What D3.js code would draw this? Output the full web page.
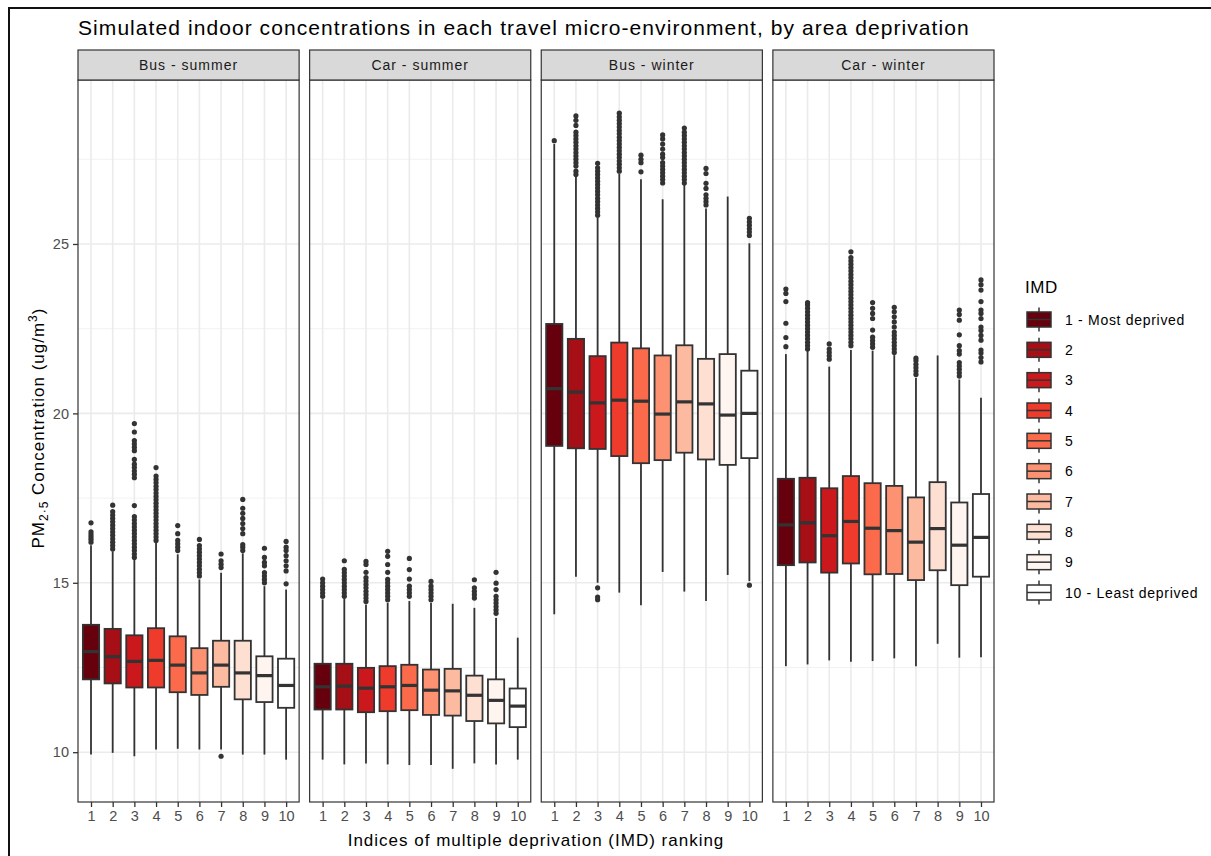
<!DOCTYPE html>
<html>
<head>
<meta charset="utf-8">
<script src="https://cdn.jsdelivr.net/npm/d3@7"></script>
<style>
  html, body { margin: 0; padding: 0; background: #fff; }
  svg { display: block; font-family: "Liberation Sans", Arial, sans-serif; }
</style>
</head>
<body>
<svg id="chart" width="1211" height="856"></svg>
<script>
// IMD categories and legend labels
const categories = ['1', '2', '3', '4', '5', '6', '7', '8', '9', '10'];
const imdLabels = ['1 - Most deprived', '2', '3', '4', '5', '6', '7', '8', '9', '10 - Least deprived'];
const facetNames = ['Bus - summer', 'Car - summer', 'Bus - winter', 'Car - winter'];
const fillColours = ['#67000D', '#A50F15', '#CB181D', '#EF3B2C', '#FB6A4A',
                     '#FC9272', '#FCBBA1', '#FEE0D2', '#FFF5F0', '#FFFFFF'];
const yTicks = [10, 15, 20, 25];
const yMinorTicks = [12.5, 17.5, 22.5, 27.5];

// Box statistics per IMD decile: [lower whisker, Q1, median, Q3, upper whisker]
const busSummerStats = [
  [9.93, 12.15, 12.97, 13.76, 16.11], [9.98, 12.03, 12.82, 13.64, 15.93],
  [9.88, 11.91, 12.68, 13.45, 15.69], [10.08, 11.91, 12.71, 13.66, 16.18],
  [10.10, 11.77, 12.57, 13.42, 15.84], [10.08, 11.69, 12.34, 13.07, 15.10],
  [10.08, 11.93, 12.57, 13.29, 15.30], [9.93, 11.56, 12.34, 13.29, 15.87],
  [9.93, 11.48, 12.26, 12.83, 14.90], [9.78, 11.31, 11.97, 12.76, 14.80]
];
const carSummerStats = [
  [9.78, 11.26, 11.93, 12.61, 14.51], [9.64, 11.26, 11.95, 12.61, 14.53],
  [9.67, 11.18, 11.89, 12.49, 14.36], [9.64, 11.21, 11.93, 12.54, 14.41],
  [9.62, 11.24, 11.97, 12.58, 14.46], [9.62, 11.10, 11.83, 12.44, 14.41],
  [9.51, 11.08, 11.81, 12.46, 14.38], [9.67, 10.92, 11.68, 12.26, 14.26],
  [9.64, 10.85, 11.53, 12.15, 13.96], [9.78, 10.74, 11.36, 11.88, 13.38]
];
const busWinterStats = [
  [14.07, 19.04, 20.73, 22.64, 27.95], [15.18, 18.97, 20.63, 22.20, 26.99],
  [15.00, 18.95, 20.31, 21.69, 25.79], [14.71, 18.74, 20.39, 22.09, 27.07],
  [14.34, 18.53, 20.36, 21.92, 26.91], [15.32, 18.62, 19.98, 21.71, 26.32],
  [14.74, 18.84, 20.34, 22.01, 26.74], [14.46, 18.64, 20.28, 21.61, 26.05],
  [15.23, 18.48, 19.95, 21.75, 26.40], [15.05, 18.68, 20.00, 21.26, 25.02]
];
const carWinterStats = [
  [12.54, 15.52, 16.71, 18.07, 21.75], [12.59, 15.60, 16.77, 18.10, 21.85],
  [12.71, 15.30, 16.39, 17.79, 21.38], [12.67, 15.57, 16.81, 18.15, 21.87],
  [12.69, 15.25, 16.61, 17.94, 21.85], [12.77, 15.26, 16.54, 17.86, 21.72],
  [12.54, 15.08, 16.20, 17.52, 21.05], [13.20, 15.37, 16.60, 17.97, 21.71],
  [12.79, 14.93, 16.11, 17.37, 21.00], [12.80, 15.18, 16.34, 17.62, 20.46]
];

// Outlying simulated values per IMD decile
const busSummerOutliers = [
  [16.2, 16.28, 16.35, 16.42, 16.5, 16.77],
  [16.0, 16.1, 16.2, 16.3, 16.4, 16.5, 16.6, 16.7, 16.8, 16.9, 17.0, 17.1, 17.29],
  [15.75, 15.85, 15.95, 16.05, 16.15, 16.25, 16.35, 16.45, 16.55, 16.65, 16.75, 16.85, 16.95,
   17.28, 18.1, 18.2, 18.3, 18.4, 18.5, 18.64, 18.9, 19.0, 19.1, 19.2, 19.45, 19.7],
  [16.25, 16.35, 16.45, 16.55, 16.65, 16.75, 16.85, 16.95, 17.05, 17.15, 17.25, 17.35,
   17.45, 17.55, 17.65, 17.75, 17.85, 17.95, 18.05, 18.15, 18.4],
  [15.95, 16.05, 16.15, 16.25, 16.45, 16.69],
  [15.2, 15.3, 15.4, 15.5, 15.6, 15.7, 15.8, 15.9, 16.0, 16.1, 16.28],
  [9.88, 15.45, 15.55, 15.65, 15.85],
  [15.95, 16.05, 16.13, 16.45, 16.6, 16.75, 16.9, 17.05, 17.2, 17.46],
  [15.0, 15.1, 15.2, 15.3, 15.5, 15.6, 15.75, 16.02],
  [14.97, 15.35, 15.5, 15.65, 15.8, 15.95, 16.05, 16.22]
];
const carSummerOutliers = [
  [14.6, 14.7, 14.8, 14.9, 15.0, 15.11],
  [14.6, 14.7, 14.8, 14.9, 15.0, 15.1, 15.2, 15.3, 15.4, 15.65],
  [14.45, 14.55, 14.65, 14.75, 14.85, 14.95, 15.05, 15.15, 15.31, 15.54, 15.63],
  [14.5, 14.6, 14.7, 14.8, 14.9, 15.0, 15.1, 15.31, 15.54, 15.78, 15.93],
  [14.6, 14.7, 14.8, 14.9, 15.11, 15.39, 15.72],
  [14.5, 14.6, 14.7, 14.8, 14.9, 15.04],
  [],
  [14.55, 14.65, 14.75, 14.85, 15.09],
  [14.1, 14.2, 14.3, 14.4, 14.5, 14.6, 14.8, 14.99, 15.31],
  []
];
const busWinterOutliers = [
  [28.05],
  [27.05, 27.15, 27.3, 27.4, 27.5, 27.6, 27.7, 27.8, 27.9, 28.0, 28.1, 28.2, 28.3, 28.5, 28.65, 28.78],
  [14.5, 14.58, 14.85, 25.85, 25.95, 26.05, 26.15, 26.25, 26.35, 26.45, 26.55, 26.65, 26.75,
   26.85, 26.95, 27.05, 27.15, 27.25, 27.38],
  [27.15, 27.25, 27.35, 27.45, 27.55, 27.65, 27.75, 27.85, 27.95, 28.05, 28.15, 28.25, 28.35,
   28.45, 28.55, 28.65, 28.75, 28.86],
  [27.13, 27.4, 27.5, 27.62],
  [26.8, 26.9, 27.0, 27.1, 27.2, 27.3, 27.4, 27.55, 27.65, 27.8, 27.95, 28.1, 28.22],
  [26.8, 26.9, 27.0, 27.1, 27.2, 27.3, 27.4, 27.5, 27.6, 27.7, 27.8, 27.9, 28.0, 28.1, 28.2, 28.3, 28.42],
  [26.15, 26.25, 26.35, 26.45, 26.64, 26.79, 27.08, 27.23],
  [],
  [14.93, 25.25, 25.35, 25.45, 25.55, 25.65, 25.76]
];
const carWinterOutliers = [
  [21.97, 22.24, 22.66, 23.3, 23.54, 23.67],
  [21.9, 22.0, 22.1, 22.2, 22.3, 22.4, 22.5, 22.6, 22.7, 22.8, 22.9, 23.0, 23.1, 23.2, 23.27],
  [21.6, 21.7, 21.8, 21.9, 22.05],
  [22.0, 22.1, 22.2, 22.3, 22.4, 22.5, 22.6, 22.7, 22.8, 22.9, 23.0, 23.1, 23.2, 23.3, 23.4,
   23.5, 23.6, 23.7, 23.8, 23.9, 24.0, 24.1, 24.2, 24.3, 24.4, 24.5, 24.6, 24.77],
  [21.95, 22.05, 22.15, 22.25, 22.46, 22.8, 22.95, 23.1, 23.27],
  [21.8, 21.9, 22.0, 22.1, 22.2, 22.3, 22.4, 22.55, 22.7, 22.85, 23.0, 23.13],
  [21.15, 21.25, 21.35, 21.45, 21.55, 21.63],
  [],
  [21.1, 21.2, 21.3, 21.4, 21.5, 21.75, 21.85, 22.0, 22.32, 22.75, 22.92, 23.05],
  [21.52, 21.65, 21.78, 21.87, 22.16, 22.3, 22.45, 22.55, 22.8, 22.95, 23.05, 23.3, 23.64, 23.8, 23.94]
];

const facetStats = [busSummerStats, carSummerStats, busWinterStats, carWinterStats];
const facetOutliers = [busSummerOutliers, carSummerOutliers, busWinterOutliers, carWinterOutliers];

// ---- layout ----
const svg = d3.select('#chart');
const ink = '#333333';
const plotLeft = 78, plotRight = 994, panelGap = 10.5;
const stripTop = 50, stripBottom = 80, panelBottom = 802;
const panelWidth = (plotRight - plotLeft - panelGap * (facetNames.length - 1)) / facetNames.length;

const y = d3.scaleLinear().domain([8.53, 29.84]).range([panelBottom, stripBottom]);
const colour = d3.scaleOrdinal().domain(categories).range(fillColours);

// outer frame
svg.append('rect').attr('x', 9).attr('y', 8).attr('width', 1240).attr('height', 900)
  .attr('fill', 'none').attr('stroke', '#111').attr('stroke-width', 2);

// title
svg.append('text').attr('x', plotLeft).attr('y', 35)
  .attr('font-size', 21).attr('letter-spacing', 1.07).attr('fill', '#000')
  .text('Simulated indoor concentrations in each travel micro-environment, by area deprivation');

facetNames.forEach((name, fi) => {
  const left = plotLeft + fi * (panelWidth + panelGap);
  const right = left + panelWidth;
  const x = d3.scalePoint().domain(categories).range([left, right]).padding(0.6);
  const boxW = x.step() * 0.75;
  const g = svg.append('g');

  // grid
  g.selectAll('.minor').data(yMinorTicks).join('line')
    .attr('x1', left).attr('x2', right).attr('y1', d => y(d)).attr('y2', d => y(d))
    .attr('stroke', '#F2F2F2').attr('stroke-width', 1);
  g.selectAll('.major').data(yTicks).join('line')
    .attr('x1', left).attr('x2', right).attr('y1', d => y(d)).attr('y2', d => y(d))
    .attr('stroke', '#EBEBEB').attr('stroke-width', 1.6);
  g.selectAll('.vgrid').data(categories).join('line')
    .attr('x1', d => x(d)).attr('x2', d => x(d)).attr('y1', stripBottom).attr('y2', panelBottom)
    .attr('stroke', '#EBEBEB').attr('stroke-width', 1.6);

  const stats = facetStats[fi];
  const outs = facetOutliers[fi];

  categories.forEach((c, i) => {
    const [lo, q1, med, q3, hi] = stats[i];
    const cx = x(c);
    const bg = g.append('g');
    // whiskers
    bg.append('line').attr('x1', cx).attr('x2', cx).attr('y1', y(hi)).attr('y2', y(q3))
      .attr('stroke', ink).attr('stroke-width', 1.8);
    bg.append('line').attr('x1', cx).attr('x2', cx).attr('y1', y(q1)).attr('y2', y(lo))
      .attr('stroke', ink).attr('stroke-width', 1.8);
    // outliers
    bg.selectAll('circle').data(outs[i]).join('circle')
      .attr('cx', cx).attr('cy', d => y(d)).attr('r', 2.6).attr('fill', ink);
    // box
    bg.append('rect').attr('x', cx - boxW / 2).attr('width', boxW)
      .attr('y', y(q3)).attr('height', y(q1) - y(q3))
      .attr('fill', colour(c)).attr('stroke', ink).attr('stroke-width', 1.8);
    // median
    bg.append('line').attr('x1', cx - boxW / 2).attr('x2', cx + boxW / 2)
      .attr('y1', y(med)).attr('y2', y(med))
      .attr('stroke', ink).attr('stroke-width', 3.2);
  });

  // panel border
  g.append('rect').attr('x', left).attr('y', stripBottom).attr('width', panelWidth)
    .attr('height', panelBottom - stripBottom).attr('fill', 'none')
    .attr('stroke', ink).attr('stroke-width', 1.2);
  // strip
  g.append('rect').attr('x', left).attr('y', stripTop).attr('width', panelWidth)
    .attr('height', stripBottom - stripTop).attr('fill', '#D9D9D9')
    .attr('stroke', ink).attr('stroke-width', 1.2);
  g.append('text').attr('x', (left + right) / 2).attr('y', 70)
    .attr('text-anchor', 'middle').attr('font-size', 14).attr('letter-spacing', 1)
    .attr('fill', '#1A1A1A').text(name);

  // x axis
  const xAxis = d3.axisBottom(x).tickSize(5).tickPadding(4);
  const ax = svg.append('g').attr('transform', `translate(0,${panelBottom})`).call(xAxis);
  ax.select('.domain').remove();
  ax.selectAll('line').attr('stroke', ink).attr('stroke-width', 1.3);
  ax.selectAll('text').attr('font-size', 14.5).attr('fill', '#4D4D4D')
    .attr('font-family', '"Liberation Sans", Arial, sans-serif');
});

// y axis
const yAxis = d3.axisLeft(y).tickValues(yTicks).tickSize(5).tickPadding(4);
const ay = svg.append('g').attr('transform', `translate(${plotLeft},0)`).call(yAxis);
ay.select('.domain').remove();
ay.selectAll('line').attr('stroke', ink).attr('stroke-width', 1.3);
ay.selectAll('text').attr('font-size', 14.5).attr('fill', '#4D4D4D')
  .attr('font-family', '"Liberation Sans", Arial, sans-serif');

// axis titles
svg.append('text').attr('x', (plotLeft + plotRight) / 2).attr('y', 846)
  .attr('text-anchor', 'middle').attr('font-size', 17).attr('letter-spacing', 1)
  .attr('fill', '#000')
  .text('Indices of multiple deprivation (IMD) ranking');

const yt = svg.append('text').attr('transform', 'translate(44,428) rotate(-90)')
  .attr('text-anchor', 'middle').attr('font-size', 17).attr('letter-spacing', 1)
  .attr('fill', '#000');
yt.append('tspan').text('PM');
yt.append('tspan').attr('font-size', 12).attr('dy', 4).text('2·5');
yt.append('tspan').attr('dy', -4).text(' Concentration (ug/m');
yt.append('tspan').attr('font-size', 12).attr('dy', -7).text('3');
yt.append('tspan').attr('dy', 7).text(')');

// legend
const legend = svg.append('g');
legend.append('text').attr('x', 1025).attr('y', 293).attr('font-size', 17)
  .attr('letter-spacing', 0.5).attr('fill', '#000').text('IMD');
const keyY = d3.scalePoint().domain(categories).range([319.5, 592.5]);
categories.forEach((c, i) => {
  const cy = keyY(c);
  const kx = 1039;
  legend.append('line').attr('x1', kx).attr('x2', kx).attr('y1', cy - 12).attr('y2', cy + 12)
    .attr('stroke', ink).attr('stroke-width', 1.5);
  legend.append('rect').attr('x', kx - 12).attr('y', cy - 7.5).attr('width', 24).attr('height', 15)
    .attr('fill', colour(c)).attr('stroke', ink).attr('stroke-width', 1.5);
  legend.append('line').attr('x1', kx - 12).attr('x2', kx + 12).attr('y1', cy).attr('y2', cy)
    .attr('stroke', ink).attr('stroke-width', 1.5);
  legend.append('text').attr('x', 1065).attr('y', cy).attr('dy', '0.36em')
    .attr('font-size', 14).attr('letter-spacing', 0.7).attr('fill', '#000').text(imdLabels[i]);
});
</script>
</body>
</html>
